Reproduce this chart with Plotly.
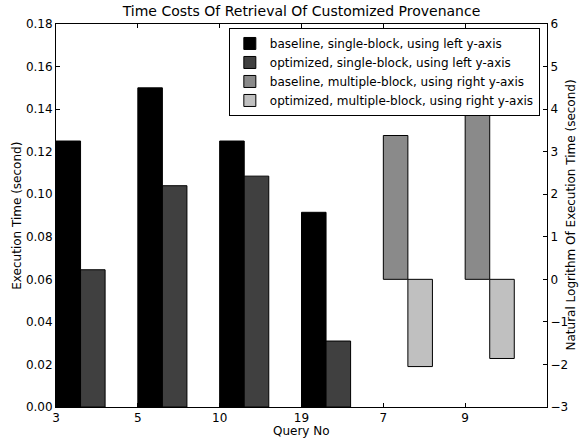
import plotly.graph_objects as go

queries = ["3", "5", "10", "19", "7", "9"]
single_queries = ["3", "5", "10", "19"]
multi_queries = ["7", "9"]
baseline_single = [0.125, 0.150, 0.125, 0.0915]
optimized_single = [0.0645, 0.104, 0.1085, 0.031]
baseline_multi = [3.38, 3.85]
optimized_multi = [-2.05, -1.86]

BAR_W = 0.3
pos = {q: i for i, q in enumerate(queries)}
FONT = "DejaVu Sans"

fig = go.Figure()
fig.add_trace(go.Bar(
    x=[pos[q] + BAR_W / 2 for q in single_queries], y=baseline_single, width=BAR_W,
    name="baseline, single-block, using left y-axis",
    marker=dict(color="#000000", line=dict(color="#000000", width=1)), yaxis="y"))
fig.add_trace(go.Bar(
    x=[pos[q] + 1.5 * BAR_W for q in single_queries], y=optimized_single, width=BAR_W,
    name="optimized, single-block, using left y-axis",
    marker=dict(color="#404040", line=dict(color="#000000", width=1)), yaxis="y"))
fig.add_trace(go.Bar(
    x=[pos[q] + BAR_W / 2 for q in multi_queries], y=baseline_multi, width=BAR_W,
    name="baseline, multiple-block, using right y-axis",
    marker=dict(color="#8a8a8a", line=dict(color="#000000", width=1)), yaxis="y2"))
fig.add_trace(go.Bar(
    x=[pos[q] + 1.5 * BAR_W for q in multi_queries], y=optimized_multi, width=BAR_W,
    name="optimized, multiple-block, using right y-axis",
    marker=dict(color="#c0c0c0", line=dict(color="#000000", width=1)), yaxis="y2"))

fig.update_layout(
    width=585, height=440,
    margin=dict(l=56, r=38, t=24, b=33),
    paper_bgcolor="white", plot_bgcolor="white",
    font=dict(family=FONT, size=12, color="black"),
    barmode="overlay",
    showlegend=True,
    title=dict(text="Time Costs Of Retrieval Of Customized Provenance",
               x=0.5, xref="paper", y=1, yref="container", yanchor="top", pad=dict(t=6),
               font=dict(family=FONT, size=14, color="black")),
    xaxis=dict(range=[0, 6], tickmode="array", tickvals=list(range(len(queries))),
               ticktext=queries, ticks="inside", ticklen=4, tickcolor="black",
               showline=True, linecolor="black", linewidth=1, mirror="ticks",
               showgrid=False, zeroline=False, tickfont=dict(size=12)),
    yaxis=dict(range=[0, 0.18], tickmode="array",
               tickvals=[0, 0.02, 0.04, 0.06, 0.08, 0.10, 0.12, 0.14, 0.16, 0.18],
               ticktext=["0.00", "0.02", "0.04", "0.06", "0.08", "0.10", "0.12", "0.14", "0.16", "0.18"],
               ticks="inside", ticklen=4, tickcolor="black",
               showline=True, linecolor="black", linewidth=1,
               showgrid=False, zeroline=False, tickfont=dict(size=12)),
    yaxis2=dict(range=[-3, 6], overlaying="y", side="right", tickmode="array",
                tickvals=list(range(-3, 7)),
                ticks="inside", ticklen=4, tickcolor="black",
                showline=True, linecolor="black", linewidth=1,
                showgrid=False, zeroline=False, tickfont=dict(size=12)),
    legend=dict(x=0.352, y=0.9896, xanchor="left", yanchor="top",
                bordercolor="black", borderwidth=1, bgcolor="white",
                font=dict(family=FONT, size=12), tracegroupgap=0,
                itemwidth=30),
    annotations=[
        dict(text="Execution Time (second)", x=-0.081, xref="paper", y=0.5, yref="paper",
             textangle=-90, showarrow=False, font=dict(size=12, color="black"), xanchor="center"),
        dict(text="Natural Logrithm Of Execution Time (second)", x=1, xref="paper", xshift=23,
             y=0.5, yref="paper", textangle=-90, showarrow=False,
             font=dict(size=12, color="black"), xanchor="center"),
        dict(text="Query No", x=0.5, xref="paper", y=0, yref="paper", yshift=-24,
             showarrow=False, font=dict(size=12, color="black"), yanchor="middle"),
    ],
)

fig.write_html("out.html", config={"displayModeBar": False},
               post_script="document.body.style.margin='0';document.body.style.overflow='hidden';")
